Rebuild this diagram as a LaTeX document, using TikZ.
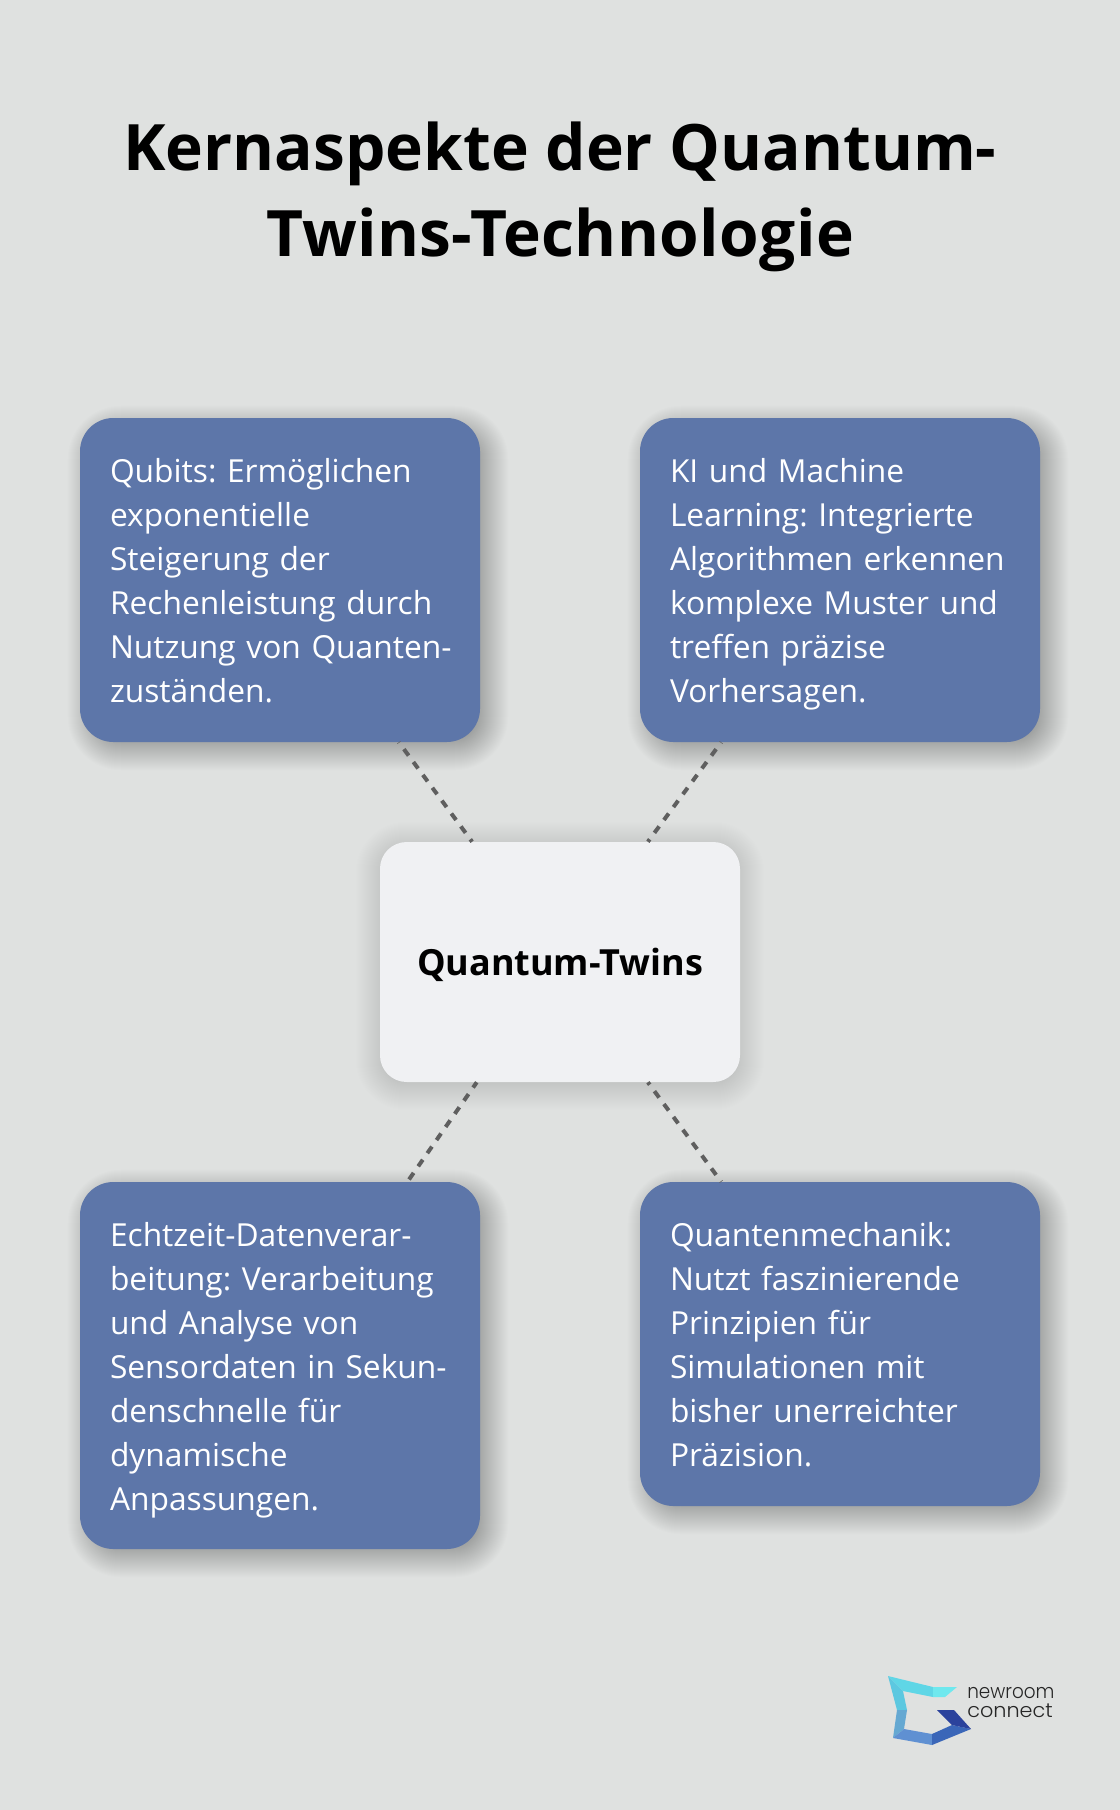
\documentclass[tikz,border=0pt]{standalone}
\usepackage{fontspec}
\usepackage{xcolor}
\setmainfont{Open Sans}
\newfontfamily\logonew[FakeStretch=0.92]{Poppins Light}
\newfontfamily\logocon[FakeStretch=1.04]{Poppins Light}
\definecolor{pagegray}{HTML}{DFE1E0}
\definecolor{boxblue}{HTML}{5D76A9}
\definecolor{boxwhite}{HTML}{F0F1F3}
\definecolor{linegray}{HTML}{5F5F5F}
\pgfdeclarelayer{page}
\pgfdeclarelayer{shade}
\pgfsetlayers{page,shade,main}
\tikzset{
  titletext/.style={align=center,font=\fontsize{48}{64}\selectfont\bfseries,text=black,inner sep=0pt},
  bluebox/.style={fill=boxblue,text=white,rounded corners=25pt,minimum width=300pt,
    text width=255pt,inner sep=0pt,align=left,font=\frenchspacing\fontsize{23.8}{33}\selectfont,
    execute at begin node=\rule{0pt}{27.75pt},execute at end node=\rule[-8.65pt]{0pt}{8.65pt}},
  centerbox/.style={fill=boxwhite,text=black,rounded corners=20pt,minimum width=270pt,minimum height=180pt,
    inner sep=0pt,text height=26pt,text depth=5.8pt,font=\fontsize{27}{33}\selectfont\bfseries},
  dashline/.style={draw=linegray,line width=3pt,dash pattern=on 6pt off 6pt,dash phase=5.6pt},
  logotext/.style={fill=none,text=black!85,align=left,inner sep=0pt,anchor=west}
}
% soft shadow of a node: node, x offset, y offset, corner radius, spread, opacity
\newcommand{\softshadow}[6]{
  \begin{pgfonlayer}{shade}
    \foreach \s [evaluate=\s as \rad using #4+0.75*\s] in {-#5,...,#5}
      \fill[black,fill opacity=#6,rounded corners=\rad pt]
        ([shift={(#2-\s,#3-\s)}]#1.north west) rectangle ([shift={(#2+\s,#3+\s)}]#1.south east);
  \end{pgfonlayer}
}
\begin{document}
\begin{tikzpicture}[x=0.75pt,y=-0.75pt]
        \begin{pgfonlayer}{page}
        \fill[pagegray] (0,0) rectangle (1120,1810);
        \end{pgfonlayer}
        \useasboundingbox (0,0) rectangle (1120,1810);
        \node[titletext](heading) at (560,197) {Kernaspekte der Quantum-\\{\addfontfeature{LetterSpace=0.6}Twins-Technologie}};
        \node[bluebox,minimum height=243pt](qubits) at (280,580) {Qubits: Ermöglichen\\exponentielle\\Steigerung der\\Rechenleistung durch\\\mbox{Nutzung von Quanten-}\\zuständen.};
        \node[bluebox,minimum height=243pt](learning) at (840,580) {KI und Machine\\Learning: Integrierte\\Algorithmen erkennen\\komplexe Muster und\\treffen präzise\\Vorhersagen.};
        \node[bluebox,minimum height=275.25pt](realtime) at (280,1365.5) {Echtzeit-Datenverar-\\beitung: Verarbeitung\\und Analyse von\\Sensordaten in Sekun-\\denschnelle für\\dynamische\\Anpassungen.};
        \node[bluebox,minimum height=243pt](mechanics) at (840,1344) {Quantenmechanik:\\Nutzt faszinierende\\Prinzipien für\\Simulationen mit\\bisher unerreichter\\Präzision.};
        \node[centerbox](twins) at (560,962) {Quantum-Twins};
        \softshadow{qubits}{8}{8}{25}{20}{0.008}
        \softshadow{learning}{8}{8}{25}{20}{0.008}
        \softshadow{realtime}{8}{8}{25}{20}{0.008}
        \softshadow{mechanics}{8}{8}{25}{20}{0.008}
        \softshadow{twins}{0}{4}{20}{24}{0.005}
        \draw[dashline](qubits)--(twins);
        \draw[dashline](learning)--(twins);
        \draw[dashline,dash phase=9.9pt](realtime)--(twins);
        \draw[dashline](mechanics)--(twins);
        % logo
        \fill[fill={rgb,255:red,95;green,214;blue,230}] (888,1676)--(933,1687)--(933,1697)--(903,1691)--cycle;
        \fill[fill={rgb,255:red,111;green,232;blue,238}] (933,1687)--(957,1687)--(945,1697)--(933,1697)--cycle;
        \fill[fill={rgb,255:red,92;green,200;blue,224}] (888,1676)--(903,1691)--(907,1710)--(897,1710)--cycle;
        \fill[fill={rgb,255:red,101;green,168;blue,210}] (897,1710)--(907,1710)--(904,1729)--(893,1738)--cycle;
        \fill[fill={rgb,255:red,95;green,144;blue,210}] (904,1729)--(932,1734)--(932,1745)--(893,1738)--cycle;
        \fill[fill={rgb,255:red,58;green,102;blue,184}] (932,1734)--(952,1725)--(971,1729)--(932,1745)--cycle;
        \fill[fill={rgb,255:red,43;green,66;blue,156}] (937,1710)--(954,1710)--(971,1729)--(952,1725)--cycle;
        \node[logotext,font=\logonew\fontsize{15}{15}\selectfont](brandtop) at (967,1693) {newroom};
        \node[logotext,font=\logocon\fontsize{15}{15}\selectfont](brandlow) at (967,1711) {connect};
\end{tikzpicture}
\end{document}
